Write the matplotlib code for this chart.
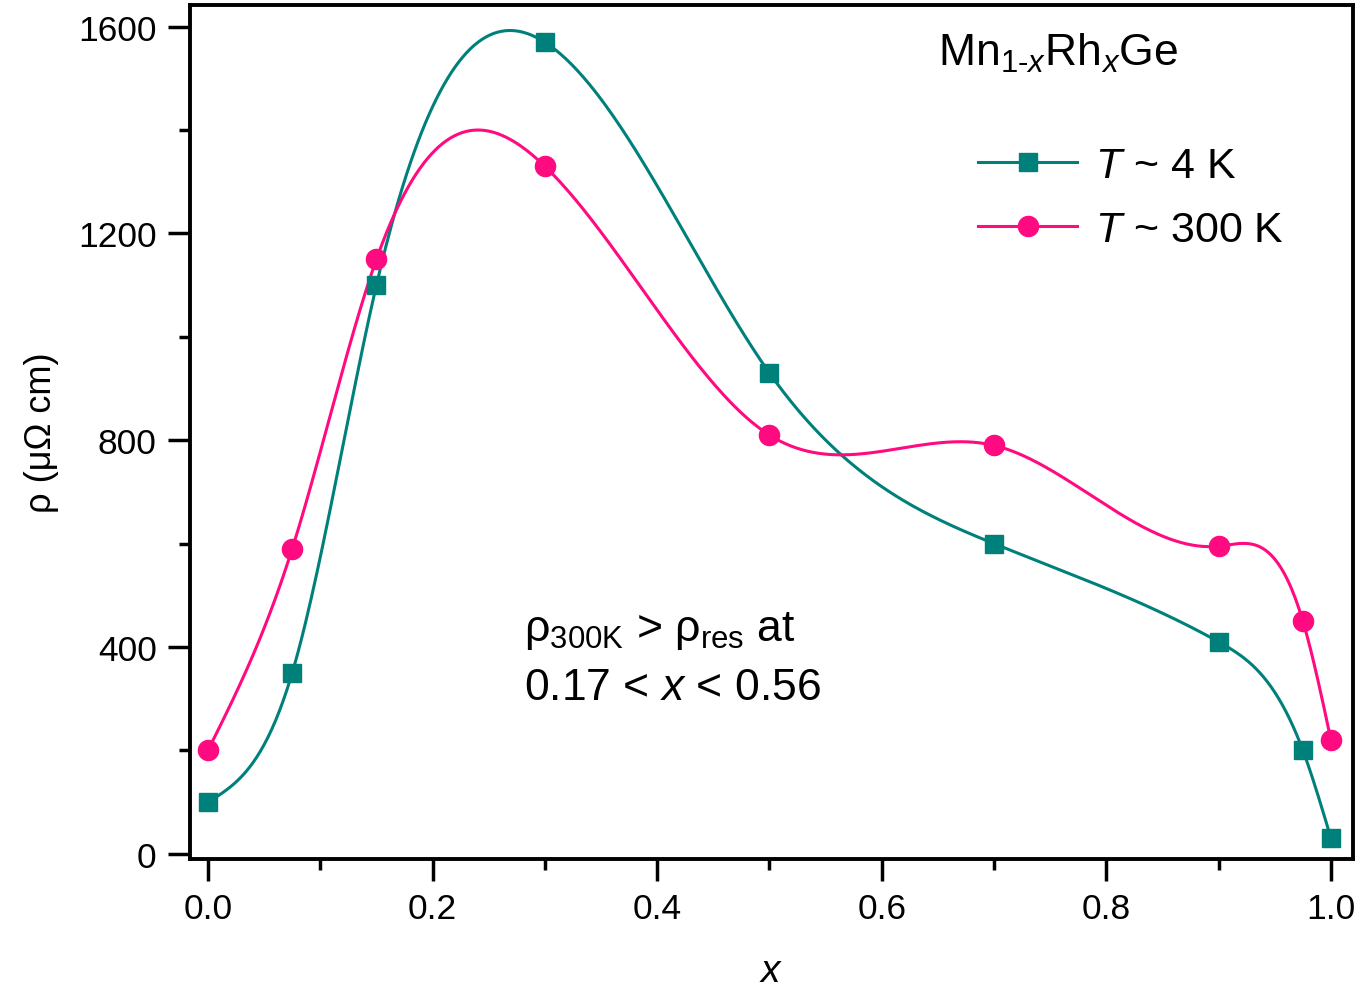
import numpy as np
import matplotlib
matplotlib.use('Agg')
import matplotlib.pyplot as plt
from matplotlib.ticker import MultipleLocator

plt.rcParams['font.family'] = ['Liberation Sans', 'DejaVu Sans']
plt.rcParams['mathtext.fontset'] = 'custom'
plt.rcParams['mathtext.rm'] = 'Liberation Sans'
plt.rcParams['mathtext.it'] = 'Liberation Sans:italic'

# composition x
x_vals = [0.0, 0.075, 0.15, 0.3, 0.5, 0.7, 0.9, 0.975, 1.0]
# resistivity (uOhm cm)
rho_4K = [100, 350, 1100, 1570, 930, 600, 410, 200, 30]
rho_300K = [200, 590, 1150, 1330, 810, 790, 595, 450, 220]

teal = '#00807a'
pink = '#ff0a80'


def natural_spline(xs, ys, n=600):
    # natural cubic spline through the points, for the smooth connecting line
    xs = np.asarray(xs, float)
    ys = np.asarray(ys, float)
    k = len(xs)
    h = np.diff(xs)
    A = np.zeros((k, k))
    b = np.zeros(k)
    A[0, 0] = 1
    A[-1, -1] = 1
    for i in range(1, k - 1):
        A[i, i - 1] = h[i - 1]
        A[i, i] = 2 * (h[i - 1] + h[i])
        A[i, i + 1] = h[i]
        b[i] = 6 * ((ys[i + 1] - ys[i]) / h[i] - (ys[i] - ys[i - 1]) / h[i - 1])
    M = np.linalg.solve(A, b)
    xf = np.linspace(xs[0], xs[-1], n)
    idx = np.clip(np.searchsorted(xs, xf) - 1, 0, k - 2)
    x0, x1 = xs[idx], xs[idx + 1]
    hh = x1 - x0
    t0 = x1 - xf
    t1 = xf - x0
    yf = (M[idx] * t0**3 + M[idx + 1] * t1**3) / (6 * hh) \
        + (ys[idx] / hh - M[idx] * hh / 6) * t0 \
        + (ys[idx + 1] / hh - M[idx + 1] * hh / 6) * t1
    return xf, yf


fig = plt.figure(figsize=(13.63, 10.03), dpi=100)
ax = fig.add_axes([190 / 1363, 1 - 860 / 1003, (1353 - 190) / 1363, (860 - 6) / 1003])

xf, yf = natural_spline(x_vals, rho_4K)
ax.plot(xf, yf, color=teal, lw=2.2)
xf, yf = natural_spline(x_vals, rho_300K)
ax.plot(xf, yf, color=pink, lw=2.2)
ax.plot(x_vals, rho_4K, 's', color=teal, ms=13, ls='none')
ax.plot(x_vals, rho_300K, 'o', color=pink, ms=14.5, ls='none')

# legend proxies
h1, = ax.plot([], [], color=teal, lw=2.2, marker='s', ms=13, label=r'$T$ ~ 4 K')
h2, = ax.plot([], [], color=pink, lw=2.2, marker='o', ms=14.5, label=r'$T$ ~ 300 K')
ax.legend(handles=[h1, h2], loc='upper left', bbox_to_anchor=(0.663, 0.855),
          frameon=False, fontsize=31, handlelength=2.3, handletextpad=0.4,
          labelspacing=0.55, borderaxespad=0)

ax.set_xlim(-0.016, 1.0196)
ax.set_ylim(-10, 1642)
ax.xaxis.set_major_locator(MultipleLocator(0.2))
ax.xaxis.set_minor_locator(MultipleLocator(0.1))
ax.yaxis.set_major_locator(MultipleLocator(400))
ax.yaxis.set_minor_locator(MultipleLocator(200))
ax.tick_params(which='both', direction='out', width=2.5, labelsize=25.5)
ax.tick_params(which='major', length=16, pad=8)
ax.tick_params(which='minor', length=8)
ax.xaxis.set_major_formatter(matplotlib.ticker.FormatStrFormatter('%.1f'))
for s in ax.spines.values():
    s.set_linewidth(2.8)

ax.set_xlabel(r'$x$', fontsize=28, labelpad=20)
ax.set_ylabel(r'ρ (μΩ cm)', fontsize=26, labelpad=14)

ax.text(0.643, 0.945, r'Mn$_{1\text{-}x}$Rh$_x$Ge', transform=ax.transAxes,
        fontsize=32, ha='left', va='center')
ax.text(0.287, 0.235, r'ρ$_{\mathrm{300K}}$ > ρ$_{\mathrm{res}}$ at' + '\n' + r'0.17 < $x$ < 0.56',
        transform=ax.transAxes, fontsize=32, ha='left', va='center', linespacing=1.5)

fig.savefig('out.png', dpi=100)
